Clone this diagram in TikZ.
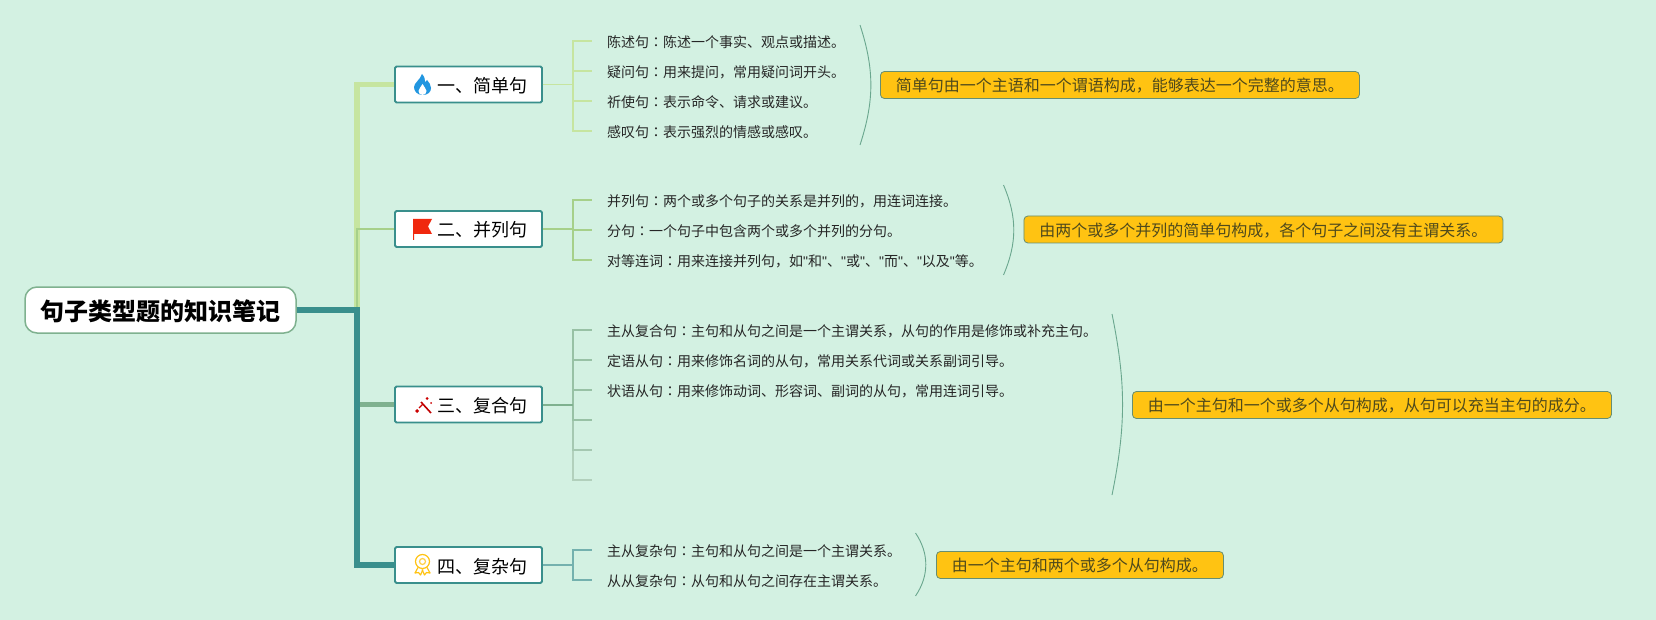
\documentclass[tikz,border=0pt]{standalone}
\usepackage{fontspec}
\usepackage{tikz}
\usetikzlibrary{positioning, calc}
\newfontfamily\zhfont{Noto Sans CJK SC}
\newfontfamily\colonfont{Noto Sans CJK TC}
\newfontfamily\quotefont{Liberation Sans}
\newcommand{\mh}{{\colonfont ：}}
\newcommand{\qt}{{\quotefont "}}
\definecolor{paper}{HTML}{D3F1E2}
\definecolor{teal}{HTML}{398F8C}
\definecolor{lime}{HTML}{C6E5A0}
\definecolor{leaf}{HTML}{A6D08A}
\definecolor{sage}{HTML}{7FB18F}
\definecolor{amber}{HTML}{FFC312}
\definecolor{notetext}{HTML}{4F4A1C}
\definecolor{flame}{HTML}{2196E0}
\definecolor{flag}{HTML}{F0280E}

\begin{document}
\begin{tikzpicture}[
    x=1pt, y=-1pt,
    root/.style={rectangle, draw=sage, fill=white, minimum width=271pt, minimum height=46pt,
                 rounded corners=12pt, line width=1.5pt, text height=22pt, text depth=1pt,
                 font=\zhfont\fontsize{24}{28}\selectfont\bfseries},
    topic/.style={rectangle, draw=teal, fill=white, minimum width=147pt, minimum height=36pt,
                  rounded corners=1.5pt, line width=1.8pt, inner sep=0pt, text height=17pt, text depth=1pt,
                  font=\zhfont\fontsize{18}{22}\selectfont},
    item/.style={anchor=west, inner xsep=15pt, inner ysep=2pt, text height=15pt, text depth=2pt,
                 text=black!85, font=\zhfont\fontsize{14}{16}\selectfont},
    note/.style={rectangle, anchor=west, draw=sage!80!black, fill=amber, minimum height=27pt, inner xsep=15.5pt,
                 inner ysep=0pt, rounded corners=4pt, line width=0.8pt, text height=15pt, text depth=1.5pt,
                 text=notetext, font=\zhfont\fontsize{16}{20}\selectfont},
    bracket/.style={draw=sage!70!teal, line width=0.9pt},
    thicklink/.style={line width=5.5pt},
    thinlink/.style={line width=2pt},
    stub/.style={line width=1.5pt}
]
    \useasboundingbox[fill=paper] (0,0) rectangle (1656,620);

    \node[root] (root) at (160.5,310) {句子类型题的知识笔记};
    \node[topic] (simple) at (468.5,84.5) {\hspace*{27pt}一、简单句};
    \node[topic] (parallel) at (468.5,229) {\hspace*{27pt}二、并列句};
    \node[topic] (compound) at (468.5,404.5) {\hspace*{27pt}三、复合句};
    \node[topic] (complex) at (468.5,565) {\hspace*{27pt}四、复杂句};

    \node[item] (sim1) at (592,41) {陈述句\mh 陈述一个事实、观点或描述。};
    \node[item] (sim2) at (592,71) {疑问句\mh 用来提问，常用疑问词开头。};
    \node[item] (sim3) at (592,101) {祈使句\mh 表示命令、请求或建议。};
    \node[item] (sim4) at (592,131) {感叹句\mh 表示强烈的情感或感叹。};

    \node[item] (par1) at (592,200) {并列句\mh 两个或多个句子的关系是并列的，用连词连接。};
    \node[item] (par2) at (592,230) {分句\mh 一个句子中包含两个或多个并列的分句。};
    \node[item] (par3) at (592,260) {对等连词\mh 用来连接并列句，如\qt 和\qt 、\qt 或\qt 、\qt 而\qt 、\qt 以及\qt 等。};

    \node[item] (com1) at (592,330) {主从复合句\mh 主句和从句之间是一个主谓关系，从句的作用是修饰或补充主句。};
    \node[item] (com2) at (592,360) {定语从句\mh 用来修饰名词的从句，常用关系代词或关系副词引导。};
    \node[item] (com3) at (592,390) {状语从句\mh 用来修饰动词、形容词、副词的从句，常用连词引导。};
    \coordinate (com4) at (592,420);
    \coordinate (com5) at (592,450);
    \coordinate (com6) at (592,480);

    \node[item] (cpx1) at (592,550) {主从复杂句\mh 主句和从句之间是一个主谓关系。};
    \node[item] (cpx2) at (592,580) {从从复杂句\mh 从句和从句之间存在主谓关系。};

    \node[note] (simnote) at (880,85) {简单句由一个主语和一个谓语构成，能够表达一个完整的意思。};
    \node[note] (parnote) at (1023.5,229.5) {由两个或多个并列的简单句构成，各个句子之间没有主谓关系。};
    \node[note] (comnote) at (1132,405) {由一个主句和一个或多个从句构成，从句可以充当主句的成分。};
    \node[note] (cpxnote) at (936,565) {由一个主句和两个或多个从句构成。};

    \draw[thicklink, lime] (root.east) -- ++(60,0) |- (simple.west);
    \draw[thinlink, leaf] (root.east) -- ++(60,0) |- (parallel.west);
    \draw[thicklink, sage] (root.east) -- ++(60,0) |- (compound.west);
    \draw[thicklink, teal] (root.east) -- ++(60,0) |- (complex.west);

    \draw[stub, lime] (simple.east) -- ++(30,0) |- (sim1.west);
    \draw[stub, lime] (simple.east) -- ++(30,0) |- (sim2.west);
    \draw[stub, lime] (simple.east) -- ++(30,0) |- (sim3.west);
    \draw[stub, lime] (simple.east) -- ++(30,0) |- (sim4.west);

    \draw[stub, leaf] (parallel.east) -- ++(30,0) |- (par1.west);
    \draw[stub, leaf] (parallel.east) -- ++(30,0) |- (par2.west);
    \draw[stub, leaf] (parallel.east) -- ++(30,0) |- (par3.west);

    \draw[stub, sage!60] (compound.east) -- ++(30,0) |- (com6);
    \draw[stub, sage!70] (compound.east) -- ++(30,0) |- (com5);
    \draw[stub, sage!80] (compound.east) -- ++(30,0) |- (com4);
    \draw[stub, sage!80] (compound.east) -- ++(30,0) |- (com1.west);
    \draw[stub, sage!80] (compound.east) -- ++(30,0) |- (com2.west);
    \draw[stub, sage!80] (compound.east) -- ++(30,0) |- (com3.west);
    \draw[thinlink, sage] (compound.east) -- ++(30,0);

    \draw[stub, teal!70] (complex.east) -- ++(30,0) |- (cpx1.west);
    \draw[stub, teal!70] (complex.east) -- ++(30,0) |- (cpx2.west);

    \coordinate (simtop) at (860,25);
    \coordinate (simbot) at (860,145);
    \coordinate (partop) at (1003.5,185);
    \coordinate (parbot) at (1003.5,275);
    \coordinate (comtop) at (1112,314);
    \coordinate (combot) at (1112,495);
    \coordinate (cpxtop) at (915.5,533);
    \coordinate (cpxbot) at (915.5,596);
    \draw[bracket] (simtop) to[bend left=18] (simbot);
    \draw[bracket] (partop) to[bend left=23] (parbot);
    \draw[bracket] (comtop) to[bend left=11.5] (combot);
    \draw[bracket] (cpxtop) to[bend left=34] (cpxbot);

    \fill[flame] (422.5,95) .. controls (417,95) and (414,91) .. (414,87) .. controls (414,83) and (420,80) .. (422,74)
        .. controls (425,77) and (425,80) .. (425,82) .. controls (426,81.5) and (426.5,81) .. (427,80) .. controls (429,82) and (431,85) .. (431,88)
        .. controls (431,92) and (428,95) .. (422.5,95) -- cycle;
    \fill[white] (422.5,95) .. controls (420,95) and (418.5,93) .. (418.5,91) .. controls (418.5,89) and (421,87) .. (422.5,84)
        .. controls (424,87) and (426.5,89) .. (426.5,91) .. controls (426.5,93) and (425,95) .. (422.5,95) -- cycle;

    \fill[flag] (413,219) -- (432,219) -- (428,226.5) -- (432,234) -- (414,234) -- (414,240) -- (413,240) -- cycle;

    \draw[red!75!black, line width=1.6pt] (421,402) -- (431,413);
    \fill[red!80!black] (417,409) -- (419,411) -- (417,413) -- (415,411) -- cycle;
    \fill[red!80!black] (427,397) -- (428.5,398.5) -- (427,400) -- (425.5,398.5) -- cycle;
    \fill[red!80!black] (431,403) circle (1pt);
    \draw[red!80!black, line width=1.4pt] (419,408) -- (423,404);

    \draw[amber, line width=1.2pt] (422.5,561.5) circle (7pt);
    \draw[amber!80, line width=1.2pt] (422.5,561.5) circle (3pt);
    \draw[amber, line width=1.2pt, line join=round] (418,567.5) -- (415,573) -- (418.5,572.5) -- (420.5,575) -- (423,569.5);
    \draw[amber, line width=1.2pt, line join=round] (427,567.5) -- (430,573) -- (426.5,572.5) -- (424.5,575) -- (422,569.5);
\end{tikzpicture}
\end{document}
